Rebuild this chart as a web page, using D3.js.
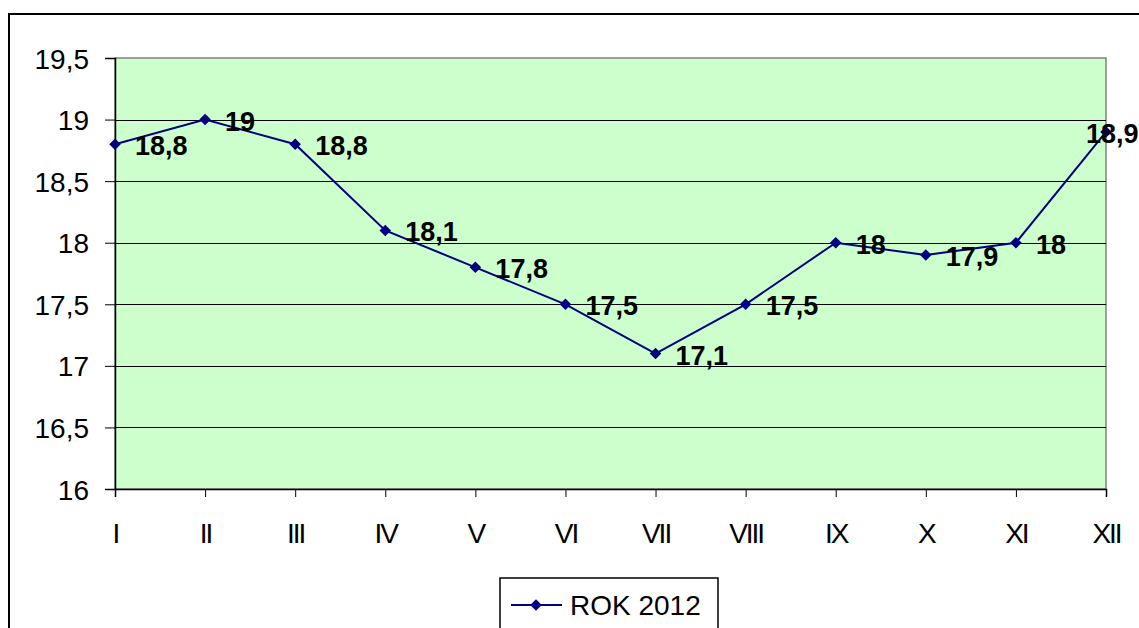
<!DOCTYPE html>
<html>
<head>
<meta charset="utf-8">
<script src="https://cdn.jsdelivr.net/npm/d3@7"></script>
<style>
  body { margin: 0; background: #fff; }
  svg { display: block; font-family: "Liberation Sans", Arial, sans-serif; }
</style>
</head>
<body>
<script>
var months = ["I", "II", "III", "IV", "V", "VI", "VII", "VIII", "IX", "X", "XI", "XII"];
var values = [18.8, 19, 18.8, 18.1, 17.8, 17.5, 17.1, 17.5, 18, 17.9, 18, 18.9];
var labels = ["18,8", "19", "18,8", "18,1", "17,8", "17,5", "17,1", "17,5", "18", "17,9", "18", "18,9"];
var yTicks = [16, 16.5, 17, 17.5, 18, 18.5, 19, 19.5];
var seriesName = "ROK 2012";

(function() {
  var width = 1139, height = 628;
  var plotLeft = 115, plotRight = 1106, plotTop = 58, plotBottom = 489;

  var svg = d3.select("body").append("svg")
      .attr("width", width)
      .attr("height", height);

  // outer chart frame (runs off the right and bottom edge)
  svg.append("rect")
      .attr("x", 9).attr("y", 14)
      .attr("width", 1200).attr("height", 700)
      .attr("fill", "#fff")
      .attr("stroke", "#000")
      .attr("stroke-width", 2);

  var x = d3.scalePoint().domain(months).range([plotLeft, plotRight]);
  var y = d3.scaleLinear().domain([16, 19.5]).range([plotBottom, plotTop]);

  // plot area
  svg.append("rect")
      .attr("x", plotLeft).attr("y", plotTop)
      .attr("width", plotRight - plotLeft).attr("height", plotBottom - plotTop)
      .attr("fill", "#ccffcc")
      .attr("stroke", "#808080")
      .attr("stroke-width", 1.5);

  // gridlines
  svg.append("g").selectAll("line")
      .data(yTicks.slice(1, -1))
    .enter().append("line")
      .attr("x1", plotLeft).attr("x2", plotRight)
      .attr("y1", function(d) { return Math.round(y(d)) + 0.5; })
      .attr("y2", function(d) { return Math.round(y(d)) + 0.5; })
      .attr("stroke", "#000")
      .attr("stroke-width", 1);

  var fmt = function(d) { return String(d).replace(".", ","); };

  var yAxis = svg.append("g")
      .attr("transform", "translate(" + plotLeft + ",0)")
      .call(d3.axisLeft(y).tickValues(yTicks).tickFormat(fmt).tickSize(10).tickPadding(16));

  var xAxis = svg.append("g")
      .attr("transform", "translate(0," + plotBottom + ")")
      .call(d3.axisBottom(x).tickSize(8).tickPadding(26));

  [yAxis, xAxis].forEach(function(ax) {
    ax.select(".domain").attr("stroke", "#000").attr("stroke-width", 1.5);
    ax.selectAll(".tick line").attr("stroke", "#000");
    ax.selectAll(".tick text")
        .attr("fill", "#000")
        .style("font-size", "28px")
        .style("font-family", '"Liberation Sans", Arial, sans-serif');
  });
  yAxis.selectAll(".tick text").attr("dy", "0.36em");
  xAxis.selectAll(".tick text").style("letter-spacing", "-2px");

  // series line
  var line = d3.line()
      .x(function(d, i) { return x(months[i]); })
      .y(function(d) { return y(d); });

  svg.append("path")
      .datum(values)
      .attr("d", line)
      .attr("fill", "none")
      .attr("stroke", "#000080")
      .attr("stroke-width", 2);

  var diamond = d3.symbol().type(d3.symbolDiamond2).size(85);

  svg.append("g").selectAll("path")
      .data(values)
    .enter().append("path")
      .attr("d", diamond)
      .attr("transform", function(d, i) { return "translate(" + x(months[i]) + "," + y(d) + ")"; })
      .attr("fill", "#000080");

  // data labels (the last one is pulled back over its point, as in the original)
  var last = values.length - 1;
  svg.append("g").selectAll("text")
      .data(values)
    .enter().append("text")
      .attr("x", function(d, i) { return x(months[i]) + (i === last ? -20 : 20); })
      .attr("y", function(d) { return y(d) + 11; })
      .attr("font-size", 27)
      .attr("font-weight", "bold")
      .attr("fill", "#000")
      .text(function(d, i) { return labels[i]; });

  // legend
  var legend = svg.append("g").attr("transform", "translate(500,578)");
  legend.append("rect")
      .attr("width", 218).attr("height", 80)
      .attr("fill", "#fff")
      .attr("stroke", "#000")
      .attr("stroke-width", 1.5);
  legend.append("line")
      .attr("x1", 11).attr("x2", 62)
      .attr("y1", 27).attr("y2", 27)
      .attr("stroke", "#000080")
      .attr("stroke-width", 2);
  legend.append("path")
      .attr("d", diamond)
      .attr("transform", "translate(36,27)")
      .attr("fill", "#000080");
  legend.append("text")
      .attr("x", 70).attr("y", 37)
      .attr("font-size", 28)
      .attr("fill", "#000")
      .text(seriesName);
})();
</script>
</body>
</html>
